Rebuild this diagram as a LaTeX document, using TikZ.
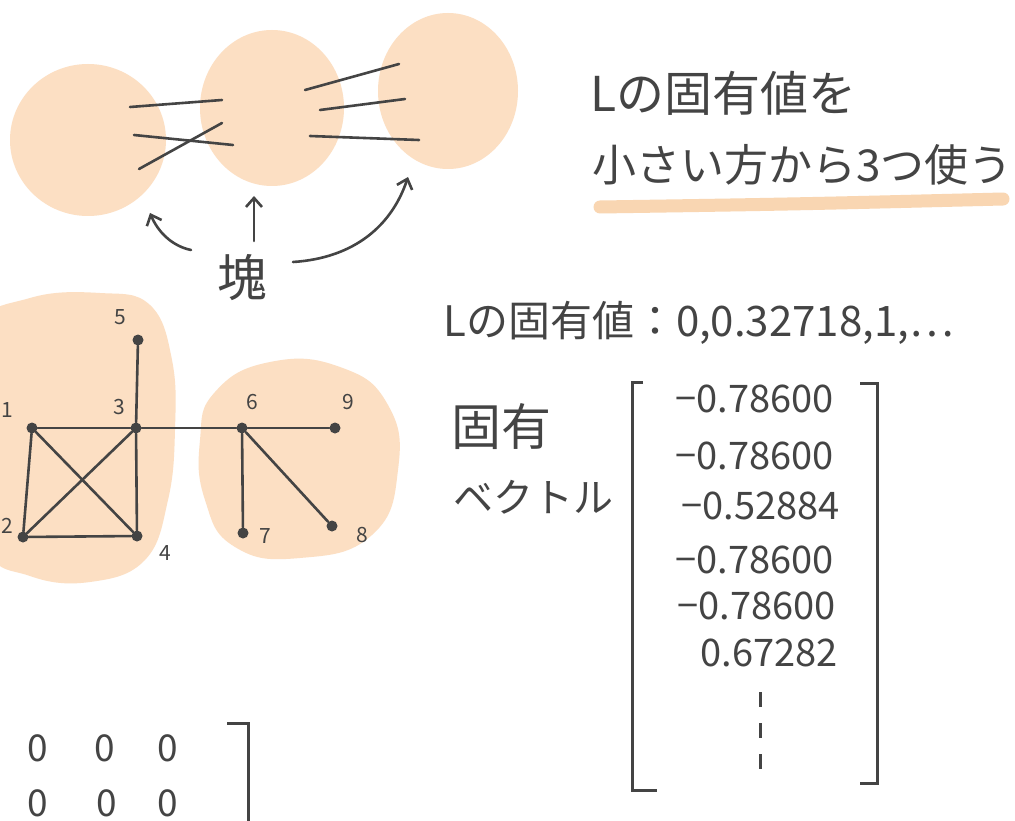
\documentclass[tikz,border=0pt]{standalone}
\usepackage{fontspec}
\setmainfont{Noto Sans CJK JP}
\usetikzlibrary{arrows.meta}
\definecolor{blob}{HTML}{FCDFC3}
\definecolor{uline}{HTML}{F9D6B2}
\definecolor{ink}{HTML}{444444}
\newcommand{\fsz}[1]{\fontsize{#1}{#1}\selectfont}
\tikzset{
  blobfill/.style={fill=blob, draw=none},
  pen/.style={draw=ink, line width=2.6pt, line cap=round},
  arr/.style={pen, -{Straight Barb[length=9pt,width=16pt,line width=2.6pt]}},
  vtx/.style={circle, fill=ink, inner sep=0pt, minimum size=11pt},
  vlab/.style={text=ink, font=\fsz{21}, inner sep=0pt},
  txt/.style={text=ink, inner sep=0pt},
  num/.style={text=ink, inner sep=0pt, font=\fsz{38}, anchor=east},
  zero/.style={text=ink, inner sep=0pt, font=\fsz{37}},
}
\begin{document}
\begin{tikzpicture}[x=1pt,y=-1pt]
\useasboundingbox (0,0) rectangle (1015,821);
\clip (0,0) rectangle (1015,821);
\fill[white] (0,0) rectangle (1015,821);

% ---- top: three blobs ----
\fill[blobfill] (88,140) ellipse [x radius=78, y radius=76];
\fill[blobfill] (272,108) ellipse [x radius=72, y radius=78];
\fill[blobfill] (448,91) ellipse [x radius=70, y radius=78];

\coordinate (a1) at (130,107); \coordinate (a2) at (222,100);
\coordinate (b1) at (134,135); \coordinate (b2) at (233,145);
\coordinate (c1) at (139,169); \coordinate (c2) at (222,123);
\coordinate (d1) at (305,90);  \coordinate (d2) at (399,64);
\coordinate (e1) at (320,110); \coordinate (e2) at (405,99);
\coordinate (f1) at (310,136); \coordinate (f2) at (419,140);
\draw[pen] (a1) -- (a2);
\draw[pen] (b1) -- (b2);
\draw[pen] (c1) -- (c2);
\draw[pen] (d1) -- (d2);
\draw[pen] (e1) -- (e2);
\draw[pen] (f1) -- (f2);

\node[txt, font=\fsz{50}] (kai) at (242,278) {塊};
\coordinate (la) at (191,250); \coordinate (lt) at (150,213);
\coordinate (ma) at (254,241); \coordinate (mt) at (254,196);
\coordinate (ra) at (293,262); \coordinate (rt) at (408,177);
\draw[arr] (la) .. controls (172,246) and (158,232) .. (lt);
\draw[arr] (ma) -- (mt);
\draw[arr] (ra) .. controls (355,258) and (392,225) .. (rt);

% ---- top right text ----
\draw[line width=13pt, line cap=round, uline] (600,207) .. controls (800,204) .. (1003,199);
\node[txt, font=\fsz{48}, anchor=west] (t1) at (590,93) {Lの固有値を};
\node[txt, font=\fsz{44}, anchor=west] (t2) at (592,165) {小さい方から3つ使う};

% ---- graph ----
\fill[blobfill] plot[smooth cycle, tension=0.7] coordinates {
  (-25,330) (30,298) (100,293) (150,305) (172,360) (175,430)
  (168,500) (145,560) (90,582) (30,576) (-15,545) (-30,430)};
\fill[blobfill] plot[smooth cycle, tension=0.8] coordinates {
  (215,392) (270,362) (340,367) (388,405) (398,470) (372,535)
  (300,558) (235,547) (205,500) (200,440)};

\node[vtx] (n1) at (32,428) {};
\node[vtx] (n2) at (23,537) {};
\node[vtx] (n3) at (136,428) {};
\node[vtx] (n4) at (137,536) {};
\node[vtx] (n5) at (138,340) {};
\node[vtx] (n6) at (242,428) {};
\node[vtx] (n7) at (243,533) {};
\node[vtx] (n8) at (332,526) {};
\node[vtx] (n9) at (335,428) {};
\foreach \u/\v in {n1/n3, n1/n2, n1/n4, n2/n3, n2/n4, n3/n4, n3/n5, n3/n6, n6/n9, n6/n7, n6/n8}
  \draw[pen] (\u) -- (\v);

\node[vlab] (l1) at (7,410) {1};
\node[vlab] (l2) at (7,526) {2};
\node[vlab] (l3) at (119,407) {3};
\node[vlab] (l4) at (165,553) {4};
\node[vlab] (l5) at (120,317) {5};
\node[vlab] (l6) at (252,402) {6};
\node[vlab] (l7) at (265,536) {7};
\node[vlab] (l8) at (362,535) {8};
\node[vlab] (l9) at (348,402) {9};

% ---- eigenvalues ----
\node[txt, font=\fsz{42}, anchor=west] (ev) at (443,323) {Lの固有値：0,0.32718,1,…};
\node[txt, font=\fsz{50}, anchor=west] (ko) at (451,427) {固有};
\node[txt, font=\fsz{40}, anchor=west] (bk) at (453,497) {ベクトル};

\coordinate (LBt) at (643,382); \coordinate (LBtl) at (632,382);
\coordinate (LBbl) at (632,790); \coordinate (LBb) at (657,790);
\draw[draw=ink, line width=3pt] (LBt) -- (LBtl) -- (LBbl) -- (LBb);
\coordinate (RBt) at (860,383); \coordinate (RBtr) at (877,383);
\coordinate (RBbr) at (877,783); \coordinate (RBb) at (860,783);
\draw[draw=ink, line width=3pt] (RBt) -- (RBtr) -- (RBbr) -- (RBb);

\node[num] (v1) at (834,399) {−0.78600};
\node[num] (v2) at (834,456) {−0.78600};
\node[num] (v3) at (840,506) {−0.52884};
\node[num] (v4) at (834,560) {−0.78600};
\node[num] (v5) at (836,606) {−0.78600};
\node[num] (v6) at (838,653) {0.67282};
\coordinate (d0) at (760,692); \coordinate (d9) at (760,775);
\draw[draw=ink, line width=3pt, dash pattern=on 15pt off 16pt] (d0) -- (d9);

% ---- bottom left matrix fragment ----
\node[zero] (z11) at (38,748) {0};
\node[zero] (z12) at (105,748) {0};
\node[zero] (z13) at (168,748) {0};
\node[zero] (z21) at (38,803) {0};
\node[zero] (z22) at (107,803) {0};
\node[zero] (z23) at (168,803) {0};
\coordinate (bt) at (227,723); \coordinate (btr) at (248,723); \coordinate (bb) at (248,830);
\draw[draw=ink, line width=3pt] (bt) -- (btr) -- (bb);
\end{tikzpicture}
\end{document}
